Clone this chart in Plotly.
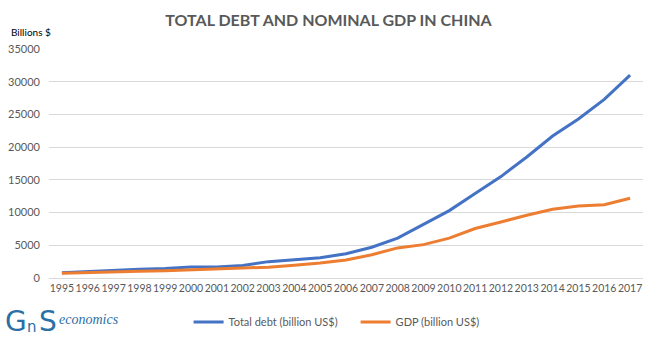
import plotly.graph_objects as go

years = [str(y) for y in range(1995, 2018)]
total_debt = [800, 1000, 1150, 1350, 1450, 1700, 1700, 1900, 2500, 2800, 3100, 3700,
              4700, 6100, 8200, 10300, 12900, 15500, 18500, 21700, 24300, 27300, 31000]
gdp = [730, 860, 960, 1030, 1090, 1210, 1340, 1470, 1660, 1960, 2290, 2750,
       3550, 4600, 5100, 6100, 7570, 8560, 9600, 10500, 11000, 11200, 12200]
y_ticks = [0, 5000, 10000, 15000, 20000, 25000, 30000, 35000]
y_tick_labels = [str(v) for v in y_ticks]

FONT = "Lato, 'Open Sans', sans-serif"
LOGO = "#2B6FA6"

fig = go.Figure()
fig.add_trace(go.Scatter(x=years, y=total_debt, mode="lines", name="Total debt (billion US$)",
                         line=dict(color="#4472C4", width=3)))
fig.add_trace(go.Scatter(x=years, y=gdp, mode="lines", name="GDP (billion US$)",
                         line=dict(color="#ED7D31", width=3)))

fig.update_layout(
    width=657, height=340,
    margin=dict(l=49, r=14, t=49, b=62, autoexpand=False),
    paper_bgcolor="white", plot_bgcolor="white",
    font=dict(family=FONT, color="#595959", size=11),
    title=dict(text="<b>TOTAL DEBT AND NOMINAL GDP IN CHINA</b>", x=0.5, xanchor="center",
               y=0.94, yanchor="middle", font=dict(size=16, color="#595959", family=FONT)),
    showlegend=True,
    legend=dict(orientation="h", x=0.235, xanchor="left", y=-0.192, yanchor="middle",
                font=dict(size=11, color="#595959"), entrywidth=122, entrywidthmode="pixels",
                tracegroupgap=0),
    xaxis=dict(type="category", showgrid=False, ticks="", showline=True, tickangle=0,
               automargin=False,
               linecolor="#D9D9D9", linewidth=1, tickfont=dict(size=10.5, color="#595959"),
               range=[-0.5, len(years) - 0.5]),
    yaxis=dict(range=[0, 35000], tickvals=y_ticks, ticktext=y_tick_labels, showgrid=True,
               gridcolor="#D9D9D9", automargin=False,
               gridwidth=1, zeroline=True, zerolinecolor="#D9D9D9", ticks="",
               tickfont=dict(size=11, color="#595959"), ticklabelstandoff=8),
)

fig.add_annotation(text="Billions $", xref="paper", yref="paper", x=-0.067, y=1.074,
                   xanchor="left", yanchor="middle", showarrow=False,
                   font=dict(size=10, color="#000000", family=FONT))
# GnS economics logo, as text
fig.add_annotation(text="G", xref="paper", yref="paper", x=-0.078, y=-0.19,
                   xanchor="left", yanchor="middle", showarrow=False,
                   font=dict(size=28, color=LOGO, family="DejaVu Sans"))
fig.add_annotation(text="n", xref="paper", yref="paper", x=-0.040, y=-0.215,
                   xanchor="left", yanchor="middle", showarrow=False,
                   font=dict(size=15, color=LOGO, family="DejaVu Sans"))
fig.add_annotation(text="S", xref="paper", yref="paper", x=-0.020, y=-0.19,
                   xanchor="left", yanchor="middle", showarrow=False,
                   font=dict(size=28, color=LOGO, family="DejaVu Sans"))
fig.add_annotation(text="<i>economics</i>", xref="paper", yref="paper", x=0.014, y=-0.18,
                   xanchor="left", yanchor="middle", showarrow=False,
                   font=dict(size=14, color=LOGO, family="Liberation Serif"))

fig.write_html("out.html")
